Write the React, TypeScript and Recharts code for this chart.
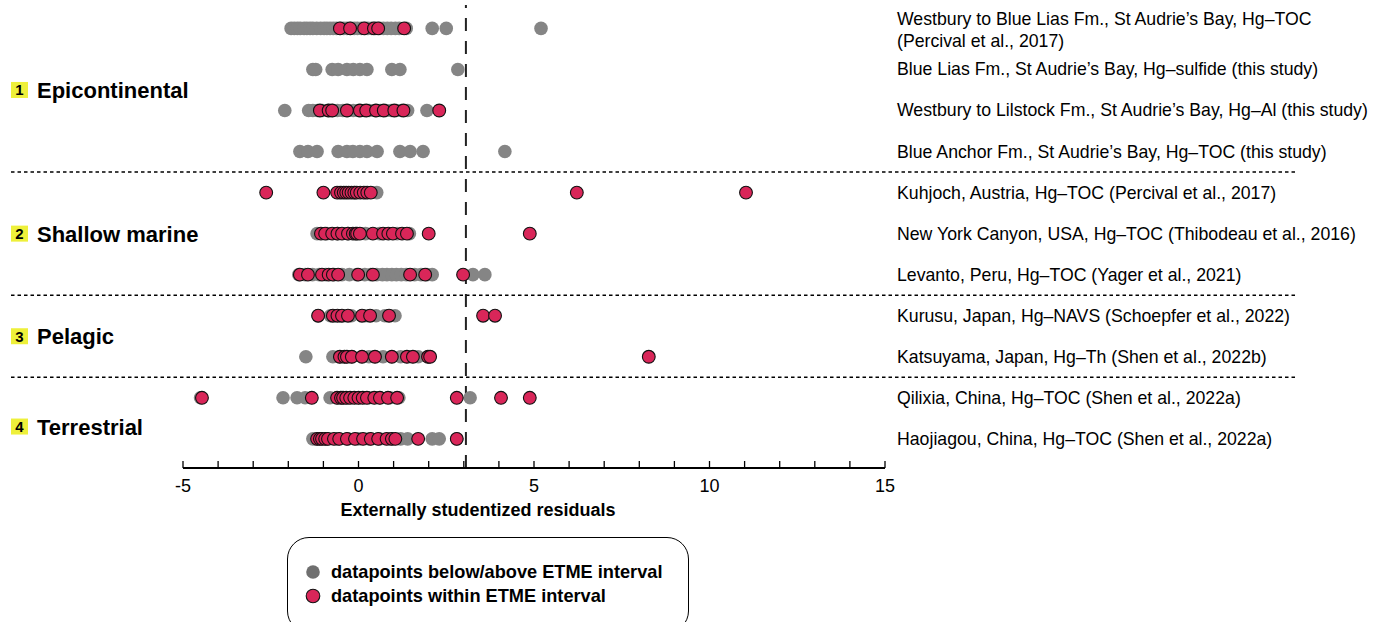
import React from "react"
import {
  ScatterChart,
  Scatter,
  XAxis,
  YAxis,
  ReferenceLine,
  Legend,
} from "recharts"

const FONT = "'Liberation Sans', Arial, Helvetica, sans-serif"
const GRAY = "#858585"
const RED = "#d92659"

// site labels, one per row (top to bottom)
const siteLabels: string[][] = [
  ["Westbury to Blue Lias Fm., St Audrie’s Bay, Hg–TOC", "(Percival et al., 2017)"],
  ["Blue Lias Fm., St Audrie’s Bay, Hg–sulfide (this study)"],
  ["Westbury to Lilstock Fm., St Audrie’s Bay, Hg–Al (this study)"],
  ["Blue Anchor Fm., St Audrie’s Bay, Hg–TOC (this study)"],
  ["Kuhjoch, Austria, Hg–TOC (Percival et al., 2017)"],
  ["New York Canyon, USA, Hg–TOC (Thibodeau et al., 2016)"],
  ["Levanto, Peru, Hg–TOC (Yager et al., 2021)"],
  ["Kurusu, Japan, Hg–NAVS (Schoepfer et al., 2022)"],
  ["Katsuyama, Japan, Hg–Th (Shen et al., 2022b)"],
  ["Qilixia, China, Hg–TOC (Shen et al., 2022a)"],
  ["Haojiagou, China, Hg–TOC (Shen et al., 2022a)"],
]

const groupNames = ["Epicontinental", "Shallow marine", "Pelagic", "Terrestrial"]
const groupLabelRow = [2.5, 6, 8.5, 10.7]
const groupSeparators = [4.5, 7.5, 9.5]
const etmeLimit = 3.06

// datapoints below/above ETME interval
const grayWestburyBlueLias = [-1.92, -1.83, -1.74, -1.66, -1.55, -1.47, -1.38, -1.3, -1.19, -1.08, -0.98, -0.9, -0.81, -0.72, -0.63, -0.51, -0.42, -0.33, -0.22, -0.12, -0.03, 0.08, 0.19, 0.27, 0.38, 0.49, 0.6, 0.71, 0.82, 0.93, 1.05, 1.16, 1.36, 2.1, 2.5, 5.2]
const grayBlueLiasSulfide = [-1.3, -1.22, -0.75, -0.58, -0.33, -0.15, 0.04, 0.24, 0.95, 1.18, 2.83]
const grayWestburyLilstock = [-2.1, -1.42, -1.3, -1.17, -1.02, -0.88, -0.74, -0.6, -0.45, -0.3, -0.15, 0.0, 0.16, 0.31, 0.47, 0.62, 0.78, 0.93, 1.08, 1.22, 1.4, 1.95]
const grayBlueAnchor = [-1.67, -1.44, -1.18, -0.58, -0.33, -0.16, 0.04, 0.24, 0.53, 1.18, 1.47, 1.84, 4.17]
const grayKuhjoch = [-0.55, -0.1, 0.2, 0.52]
const grayNewYorkCanyon = [-1.18, -0.9, -0.6, -0.3, 0.2, 0.6, 1.1, 1.45]
const grayLevanto = [-1.7, -1.52, -1.31, -1.12, -0.93, -0.7, -0.47, -0.26, -0.05, 0.18, 0.35, 0.52, 0.68, 0.81, 0.95, 1.08, 1.22, 1.36, 1.6, 1.78, 1.95, 2.1, 3.26, 3.6]
const grayKurusu = [-1.15, -0.8, -0.5, -0.2, 0.2, 0.5, 0.75, 1.04]
const grayKatsuyama = [-1.5, -0.73, -0.55, -0.2, 0.3, 0.7, 1.2, 1.7, 2.0]
const grayQilixia = [-4.5, -2.15, -1.75, -1.52, -0.81, -0.6, -0.3, 0.0, 0.3, 0.6, 0.9, 1.15, 3.18]
const grayHaojiagou = [-1.3, -1.2, -0.9, -0.6, -0.3, 0.0, 0.3, 0.6, 0.9, 1.2, 1.4, 2.1, 2.3, 2.8]

// datapoints within ETME interval
const redWestburyBlueLias = [-0.53, -0.24, 0.16, 0.44, 0.56, 1.3]
const redBlueLiasSulfide: number[] = []
const redWestburyLilstock = [-1.1, -0.85, -0.75, -0.33, 0.04, 0.22, 0.5, 0.72, 1.02, 1.28, 2.3]
const redBlueAnchor: number[] = []
const redKuhjoch = [-2.63, -1.0, -0.61, -0.5, -0.42, -0.35, -0.28, -0.2, -0.12, -0.05, 0.05, 0.15, 0.25, 0.35, 6.22, 11.04]
const redNewYorkCanyon = [-1.07, -0.95, -0.75, -0.6, -0.47, -0.3, -0.16, -0.08, -0.04, 0.04, 0.41, 0.7, 0.85, 0.98, 1.24, 1.38, 2.0, 4.88]
const redLevanto = [-1.67, -1.44, -1.04, -0.85, -0.73, -0.58, -0.01, 0.41, 1.47, 1.9, 2.98]
const redKurusu = [-1.15, -0.73, -0.6, -0.47, -0.3, 0.1, 0.33, 0.87, 3.55, 3.89]
const redKatsuyama = [-0.53, -0.4, -0.33, -0.19, 0.1, 0.47, 0.95, 1.38, 1.55, 1.98, 2.04, 8.27]
const redQilixia = [-4.46, -1.33, -0.61, -0.5, -0.44, -0.35, -0.24, -0.12, 0.0, 0.12, 0.24, 0.45, 0.61, 0.84, 1.1, 2.8, 4.06, 4.88]
const redHaojiagou = [-1.18, -1.1, -1.04, -0.95, -0.87, -0.7, -0.55, -0.33, -0.1, 0.13, 0.35, 0.56, 0.8, 0.95, 1.05, 1.7, 2.8]

const grayRows = [grayWestburyBlueLias, grayBlueLiasSulfide, grayWestburyLilstock, grayBlueAnchor, grayKuhjoch, grayNewYorkCanyon, grayLevanto, grayKurusu, grayKatsuyama, grayQilixia, grayHaojiagou]
const redRows = [redWestburyBlueLias, redBlueLiasSulfide, redWestburyLilstock, redBlueAnchor, redKuhjoch, redNewYorkCanyon, redLevanto, redKurusu, redKatsuyama, redQilixia, redHaojiagou]

const xTicks = Array.from({ length: 21 }, (_, i) => i - 5)
const rowTicks = siteLabels.map((_, i) => i + 1)
const rowDomain = [0.43, 11.71]

const toPoints = (rows: number[][]) =>
  rows.flatMap((vals, i) => vals.map((x) => ({ x, y: i + 1 })))

const grayData = toPoints(grayRows)
const redData = toPoints(redRows)

const GrayDot = (props: any) => <circle cx={props.cx} cy={props.cy} r={6.8} fill={GRAY} />
const RedDot = (props: any) => (
  <circle cx={props.cx} cy={props.cy} r={6.4} fill={RED} stroke="#111" strokeWidth={1.1} />
)

const XTick = ({ x, y, payload }: any) => (
  <g>
    <line x1={x} x2={x} y1={y - 7} y2={y} stroke="#000" strokeWidth={1.3} />
    {payload.value % 5 === 0 && (
      <text x={x} y={y + 24} textAnchor="middle" fontSize={18} fontFamily={FONT} fill="#000">
        {payload.value}
      </text>
    )}
  </g>
)

const SiteTick = ({ x, y, payload }: any) => {
  const lines = siteLabels[payload.value - 1] || []
  const start = lines.length > 1 ? -9.5 : 0
  return (
    <g>
      {lines.map((t, i) => (
        <text key={i} x={x} y={y + start + i * 22} dy={6} fontSize={17.7} fontFamily={FONT} fill="#000">
          {t}
        </text>
      ))}
    </g>
  )
}

const GroupTick = ({ y, index }: any) => (
  <g>
    <rect x={11} y={y - 8} width={17} height={16} fill="#eef03a" />
    <text x={19.5} y={y + 5.5} textAnchor="middle" fontSize={15} fontWeight={700} fontFamily={FONT} fill="#000">
      {index + 1}
    </text>
    <text x={37} y={y + 8} fontSize={22} fontWeight={700} fontFamily={FONT} fill="#000">
      {groupNames[index]}
    </text>
  </g>
)

const LegendBox = () => (
  <div
    style={{
      width: 402,
      height: 96,
      border: "1.5px solid #000",
      borderRadius: 22,
      boxSizing: "border-box",
      background: "#fff",
      position: "relative",
      fontFamily: FONT,
    }}
  >
    {[
      { label: "datapoints below/above ETME interval", fill: "#6f6f6f", stroke: "none", top: 34 },
      { label: "datapoints within ETME interval", fill: RED, stroke: "#111", top: 58 },
    ].map((item) => (
      <div key={item.label} style={{ position: "absolute", left: 17, top: item.top - 11, height: 22, display: "flex", alignItems: "center" }}>
        <svg width={16} height={16} style={{ marginRight: 10 }}>
          <circle cx={8} cy={8} r={6.8} fill={item.fill} stroke={item.stroke} strokeWidth={1.1} />
        </svg>
        <span style={{ fontSize: 18.2, fontWeight: 700, color: "#000", whiteSpace: "nowrap" }}>{item.label}</span>
      </div>
    ))}
  </div>
)

export default function App() {
  return (
    <div style={{ position: "absolute", left: 0, top: 0, fontFamily: FONT, background: "#fff" }}>
      <ScatterChart width={1386} height={622} margin={{ top: 5, right: 0, bottom: 94, left: 0 }}>
        <XAxis
          type="number"
          dataKey="x"
          domain={[-5, 15]}
          ticks={xTicks}
          interval={0}
          tickSize={0}
          tickMargin={0}
          tickLine={false}
          tick={<XTick />}
          axisLine={{ stroke: "#000", strokeWidth: 2 }}
          height={60}
          label={{
            value: "Externally studentized residuals",
            position: "insideBottom",
            offset: 12,
            dx: -56,
            style: { fontSize: 18, fontWeight: 700, fill: "#000", fontFamily: FONT },
          }}
        />
        <YAxis
          yAxisId="left"
          type="number"
          dataKey="y"
          domain={rowDomain}
          reversed
          ticks={groupLabelRow}
          interval={0}
          width={183}
          axisLine={false}
          tickLine={false}
          tick={<GroupTick />}
        />
        <YAxis
          yAxisId="right"
          orientation="right"
          type="number"
          dataKey="y"
          domain={rowDomain}
          reversed
          ticks={rowTicks}
          interval={0}
          width={501}
          axisLine={false}
          tickLine={false}
          tickSize={0}
          tickMargin={12}
          tick={<SiteTick />}
        />
        {groupSeparators.map((s) => (
          <ReferenceLine
            key={s}
            yAxisId="left"
            ifOverflow="visible"
            segment={[
              { x: -9.9, y: s },
              { x: 26.7, y: s },
            ]}
            stroke="#000"
            strokeWidth={1.5}
            strokeDasharray="3.5 3"
          />
        ))}
        <ReferenceLine yAxisId="left" x={etmeLimit} stroke="#222" strokeWidth={2} strokeDasharray="13 10" />
        <Scatter yAxisId="right" data={grayData} shape={<GrayDot />} isAnimationActive={false} />
        <Scatter yAxisId="left" data={redData} shape={<RedDot />} isAnimationActive={false} />
        <Legend
          layout="horizontal"
          verticalAlign="middle"
          align="center"
          content={<LegendBox />}
          wrapperStyle={{ position: "absolute", left: 287, top: 537, width: 402 }}
        />
      </ScatterChart>
    </div>
  )
}
